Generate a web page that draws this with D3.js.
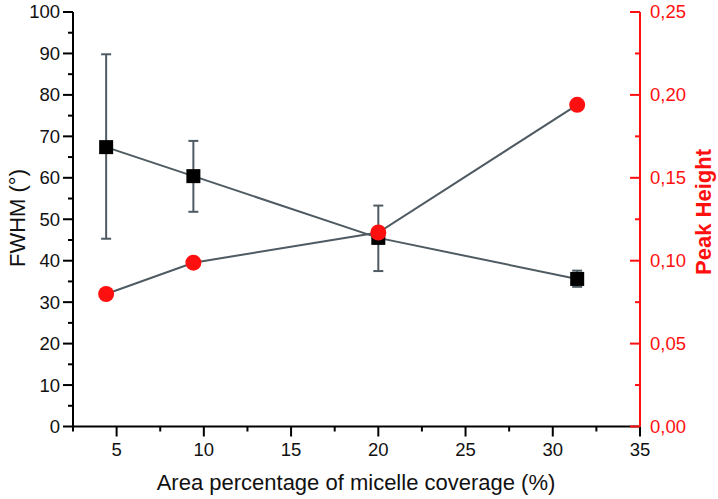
<!DOCTYPE html>
<html><head><meta charset="utf-8">
<script src="https://cdn.jsdelivr.net/npm/d3@7"></script>
<style>body{margin:0;background:#fff}svg{display:block}text{font-family:"Liberation Sans",Arial,sans-serif}</style>
</head><body>
<script>
const coverage = [4.4, 9.4, 20.0, 31.4];
const fwhm = [67.4, 60.4, 45.5, 35.6];
const fwhmLow = [45.3, 51.8, 37.5, 33.7];
const fwhmHigh = [89.8, 68.9, 53.3, 37.6];
const peakHeight = [0.0799, 0.0988, 0.117, 0.194];
const xTicks = [5, 10, 15, 20, 25, 30, 35];
const yTicks = [0, 10, 20, 30, 40, 50, 60, 70, 80, 90, 100];
const y2Ticks = [0, 0.05, 0.10, 0.15, 0.20, 0.25];

const W = 718, H = 499;
const svg = d3.select("body").append("svg").attr("width", W).attr("height", H);
const x = d3.scaleLinear().domain([2.5, 35]).range([73, 640]);
const y = d3.scaleLinear().domain([0, 100]).range([426.5, 12]);
const y2 = d3.scaleLinear().domain([0, 0.25]).range([426.5, 12]);
const red = "#ff1010", lineC = "#4f5b62";

// Left axis
const gL = svg.append("g").attr("transform", "translate(73,0)");
gL.append("line").attr("y1", y(100)).attr("y2", y(0)).attr("stroke", "#000").attr("stroke-width", 2);
d3.range(0, 101, 5).forEach(v => {
  const major = v % 10 === 0;
  gL.append("line").attr("x1", major ? -10 : -5).attr("x2", 0).attr("y1", y(v)).attr("y2", y(v)).attr("stroke", "#000").attr("stroke-width", 2);
});
gL.selectAll("text.t").data(yTicks).join("text").attr("x", -13).attr("y", d => y(d)).attr("dy", "0.35em")
  .attr("text-anchor", "end").attr("font-size", 18.5).attr("fill", "#111").text(d => d);

// Bottom axis
const gB = svg.append("g").attr("transform", "translate(0,426.5)");
gB.append("line").attr("x1", 73).attr("x2", 640).attr("stroke", "#000").attr("stroke-width", 2);
d3.range(2.5, 35.01, 2.5).forEach(v => {
  const major = Math.abs(v % 5) < 1e-6;
  gB.append("line").attr("x1", x(v)).attr("x2", x(v)).attr("y1", 0).attr("y2", major ? 10 : 5).attr("stroke", "#000").attr("stroke-width", 2);
});
gB.selectAll("text.t").data(xTicks).join("text").attr("x", d => x(d)).attr("y", 29)
  .attr("text-anchor", "middle").attr("font-size", 18.5).attr("fill", "#111").text(d => d);

// Right axis
const gR = svg.append("g").attr("transform", "translate(640,0)");
gR.append("line").attr("y1", y2(0.25)).attr("y2", y2(0)).attr("stroke", red).attr("stroke-width", 2);
d3.range(0, 0.2501, 0.025).forEach((v, i) => {
  const major = i % 2 === 0;
  gR.append("line").attr("x1", major ? -10 : -5).attr("x2", 0).attr("y1", y2(v)).attr("y2", y2(v)).attr("stroke", red).attr("stroke-width", 2);
});
gR.selectAll("text.t").data(y2Ticks).join("text").attr("x", 10).attr("y", d => y2(d)).attr("dy", "0.35em")
  .attr("font-size", 18.5).attr("fill", red).text(d => d3.format(".2f")(d).replace(".", ","));

// Titles
svg.append("text").attr("transform", "translate(25,218) rotate(-90)").attr("text-anchor", "middle")
  .attr("font-size", 22).attr("fill", "#111").text("FWHM (°)");
svg.append("text").attr("transform", "translate(711,212) rotate(-90)").attr("text-anchor", "middle")
  .attr("font-size", 22).attr("font-weight", "bold").attr("fill", red).text("Peak Height");
svg.append("text").attr("x", 356).attr("y", 490).attr("text-anchor", "middle")
  .attr("font-size", 22).attr("fill", "#111").text("Area percentage of micelle coverage (%)");

// Lines
const lineF = d3.line().x((d, i) => x(coverage[i])).y(d => y(d));
svg.append("path").attr("d", lineF(fwhm)).attr("fill", "none").attr("stroke", lineC).attr("stroke-width", 2);
const lineP = d3.line().x((d, i) => x(coverage[i])).y(d => y2(d));
svg.append("path").attr("d", lineP(peakHeight)).attr("fill", "none").attr("stroke", lineC).attr("stroke-width", 2);

// Error bars
coverage.forEach((c, i) => {
  const cx = x(c);
  svg.append("line").attr("x1", cx).attr("x2", cx).attr("y1", y(fwhmLow[i])).attr("y2", y(fwhmHigh[i])).attr("stroke", lineC).attr("stroke-width", 2);
  [fwhmLow[i], fwhmHigh[i]].forEach(v => svg.append("line").attr("x1", cx - 5).attr("x2", cx + 5).attr("y1", y(v)).attr("y2", y(v)).attr("stroke", lineC).attr("stroke-width", 2));
});

// Markers
svg.selectAll("rect.m").data(fwhm).join("rect").attr("x", (d, i) => x(coverage[i]) - 7).attr("y", d => y(d) - 7)
  .attr("width", 14).attr("height", 14).attr("fill", "#000");
svg.selectAll("circle.m").data(peakHeight).join("circle").attr("cx", (d, i) => x(coverage[i])).attr("cy", d => y2(d))
  .attr("r", 8).attr("fill", red);
</script>
</body></html>
